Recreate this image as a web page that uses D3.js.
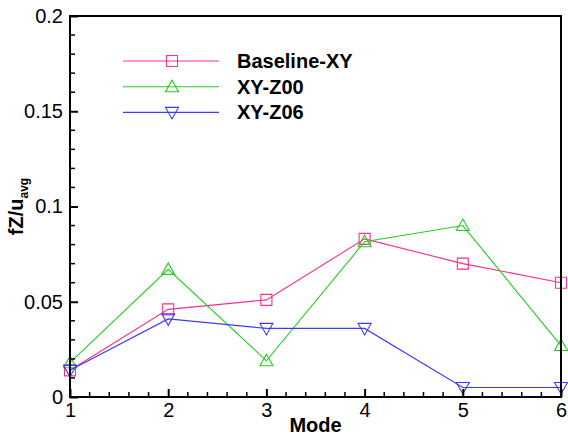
<!DOCTYPE html>
<html>
<head>
<meta charset="utf-8">
<script src="https://cdn.jsdelivr.net/npm/d3@7"></script>
<style>
  body { margin: 0; background: #fff; }
  svg { display: block; }
  text { font-family: Arial, "Liberation Sans", sans-serif; }
</style>
</head>
<body>
<svg id="chart" width="568" height="437"></svg>
<script>
// Mode numbers on the x axis
const modes = [1, 2, 3, 4, 5, 6];
// fZ/u_avg per mode for each case
const baselineXY = [0.014, 0.046, 0.051, 0.083, 0.070, 0.060];
const xyZ00 = [0.018, 0.067, 0.019, 0.0815, 0.090, 0.027];
const xyZ06 = [0.014, 0.041, 0.036, 0.036, 0.005, 0.005];
const seriesNames = ["Baseline-XY", "XY-Z00", "XY-Z06"];
const yTicks = [0, 0.05, 0.1, 0.15, 0.2];
const yTickLabels = ["0", "0.05", "0.1", "0.15", "0.2"];

const series = [
  { name: seriesNames[0], values: baselineXY, color: "#ff2d8c", marker: "square" },
  { name: seriesNames[1], values: xyZ00, color: "#22cc22", marker: "up" },
  { name: seriesNames[2], values: xyZ06, color: "#3a3aff", marker: "down" }
];

const svg = d3.select("#chart");
const m = { left: 70, right: 7, top: 16, bottom: 40 };
const W = 568, H = 437;

const x = d3.scaleLinear().domain([1, 6]).range([m.left, W - m.right]);
const y = d3.scaleLinear().domain([0, 0.2]).range([H - m.bottom, m.top]);

// Marker shapes
function markerPath(type, cx, cy) {
  const s = 5.5;
  if (type === "square") return `M${cx - s},${cy - s}h${2 * s}v${2 * s}h${-2 * s}Z`;
  if (type === "up") return `M${cx},${cy - 6.5}L${cx + 6.5},${cy + 5}L${cx - 6.5},${cy + 5}Z`;
  return `M${cx},${cy + 6.5}L${cx + 6.5},${cy - 5}L${cx - 6.5},${cy - 5}Z`;
}

const line = d3.line().x((d, i) => x(modes[i])).y(d => y(d));

const g = svg.append("g");
series.forEach(s => {
  g.append("path")
    .attr("d", line(s.values))
    .attr("fill", "none")
    .attr("stroke", s.color)
    .attr("stroke-width", 1.1);
  g.selectAll(null).data(s.values).enter().append("path")
    .attr("d", (d, i) => markerPath(s.marker, x(modes[i]), y(d)))
    .attr("fill", "none")
    .attr("stroke", s.color)
    .attr("stroke-width", 1.1);
});

// Frame
svg.append("rect")
  .attr("x", x(1)).attr("y", y(0.2))
  .attr("width", x(6) - x(1)).attr("height", y(0) - y(0.2))
  .attr("fill", "none").attr("stroke", "#000").attr("stroke-width", 2);

// Y axis with inward ticks
const yAxis = d3.axisRight(y)
  .tickValues(yTicks)
  .tickFormat((d, i) => yTickLabels[i])
  .tickSize(8);
const ya = svg.append("g").attr("transform", `translate(${x(1)},0)`).call(yAxis);
ya.select(".domain").remove();
ya.selectAll(".tick line").attr("stroke", "#000").attr("stroke-width", 2);
ya.selectAll(".tick text")
  .attr("x", -7).attr("text-anchor", "end")
  .attr("font-size", 20).attr("fill", "#000");
const yMinor = d3.range(0, 0.2001, 0.01).filter(v => Math.abs(v / 0.05 - Math.round(v / 0.05)) > 1e-6);
svg.append("g").selectAll("line").data(yMinor).enter().append("line")
  .attr("x1", x(1)).attr("x2", x(1) + 5)
  .attr("y1", d => y(d)).attr("y2", d => y(d))
  .attr("stroke", "#000").attr("stroke-width", 1.5);

// X axis with inward ticks
const xAxis = d3.axisTop(x).tickValues(modes).tickFormat(d3.format("d")).tickSize(8);
const xa = svg.append("g").attr("transform", `translate(0,${y(0)})`).call(xAxis);
xa.select(".domain").remove();
xa.selectAll(".tick line").attr("stroke", "#000").attr("stroke-width", 2);
xa.selectAll(".tick text")
  .attr("y", 20).attr("dy", 0)
  .attr("font-size", 20).attr("fill", "#000");
const xMinor = d3.range(1, 6.001, 0.2).filter(v => Math.abs(v - Math.round(v)) > 1e-6);
svg.append("g").selectAll("line").data(xMinor).enter().append("line")
  .attr("x1", d => x(d)).attr("x2", d => x(d))
  .attr("y1", y(0)).attr("y2", y(0) - 5)
  .attr("stroke", "#000").attr("stroke-width", 1.5);

// Axis titles
svg.append("text")
  .attr("x", (x(1) + x(6)) / 2).attr("y", 432)
  .attr("text-anchor", "middle")
  .attr("font-size", 20).attr("font-weight", "bold")
  .text("Mode");

const yt = svg.append("text")
  .attr("transform", `translate(23,${(y(0) + y(0.2)) / 2}) rotate(-90)`)
  .attr("text-anchor", "middle")
  .attr("font-size", 20).attr("font-weight", "bold");
yt.append("tspan").text("fZ/u");
yt.append("tspan").attr("font-size", 12).attr("dy", 5).text("avg");

// Legend
const lg = svg.append("g");
series.forEach((s, i) => {
  const ly = 61 + i * 25.7;
  lg.append("line")
    .attr("x1", 123).attr("x2", 219).attr("y1", ly).attr("y2", ly)
    .attr("stroke", s.color).attr("stroke-width", 1.1);
  lg.append("path")
    .attr("d", markerPath(s.marker, 172, ly))
    .attr("fill", "none").attr("stroke", s.color).attr("stroke-width", 1.1);
  lg.append("text")
    .attr("x", 237).attr("y", ly + 7)
    .attr("font-size", 20).attr("font-weight", "bold")
    .text(s.name);
});
</script>
</body>
</html>
